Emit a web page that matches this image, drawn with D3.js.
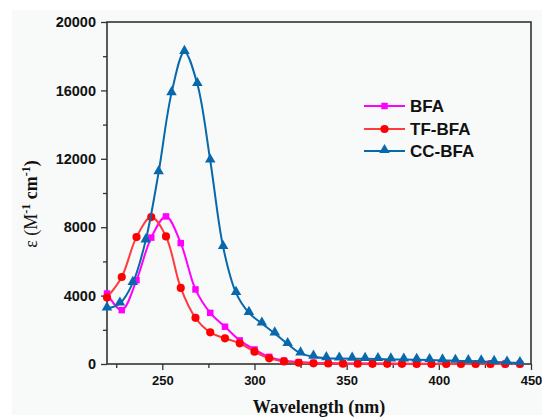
<!DOCTYPE html>
<html>
<head>
<meta charset="utf-8">
<script src="https://cdn.jsdelivr.net/npm/d3@7/dist/d3.min.js"></script>
<style>
  html, body { margin: 0; padding: 0; background: #ffffff; }
  svg { display: block; }
</style>
</head>
<body>
<svg id="chart" width="542" height="419"></svg>
<script>
// ---- data ----
const wavelengthsA = [220,228,236,244,252,260,268,276,284,292,300,308,316,324,332,340,348,356,364,372,380,388,396,404,412,420,428,436,444];
const bfaValues    = [4120,3150,4900,7390,8630,7070,4360,2990,2180,1380,850,420,200,110,70,50,40,30,30,20,20,20,10,10,10,10,0,0,0];
const tfbfaValues  = [3890,5090,7420,8590,7460,4450,2700,1850,1500,1210,720,330,150,75,40,30,20,20,10,10,10,0,0,0,0,0,0,0,0];
const wavelengthsB = [220,227,234,241,248,255,262,269,276,283,290,297,304,311,318,325,332,339,346,353,360,367,374,381,388,395,402,409,416,423,430,437,444];
const ccbfaValues  = [3250,3540,4740,7230,11210,15840,18250,16370,11900,6840,4160,2990,2370,1790,1170,620,430,340,320,310,300,290,270,260,250,230,210,190,170,150,120,90,60];
const seriesNames  = ["BFA","TF-BFA","CC-BFA"];
const xTicks = [250,300,350,400,450];
const yTicks = [0,4000,8000,12000,16000,20000];

const series = [
  {name: seriesNames[0], x: wavelengthsA, y: bfaValues,   color: "#ff00ff", line: "#ff00ff", shape: "square"},
  {name: seriesNames[1], x: wavelengthsA, y: tfbfaValues, color: "#ff0000", line: "#ff3b3b", shape: "circle"},
  {name: seriesNames[2], x: wavelengthsB, y: ccbfaValues, color: "#0868ac", line: "#0868ac", shape: "triangle"}
];

const svg = d3.select("#chart");
const W = 542, H = 419;
const m = {left: 107, right: 531, top: 22, bottom: 364};

// background panel
svg.append("rect").attr("x", 12).attr("y", 10).attr("width", W - 12).attr("height", 405).attr("fill", "#f8f9f9");

const x = d3.scaleLinear().domain([220, 450]).range([m.left, m.right]);
const y = d3.scaleLinear().domain([0, 20000]).range([m.bottom, m.top]);

const axisColor = "#333";

// minor ticks
const xMinor = d3.range(225, 450, 50);
const yMinor = d3.range(2000, 20000, 4000);

const xAxis = svg.append("g").attr("transform", `translate(0,${m.bottom})`)
  .call(d3.axisBottom(x).tickValues(xTicks).tickSize(6).tickPadding(6).tickFormat(d3.format("d")));
svg.append("g").attr("transform", `translate(0,${m.bottom})`)
  .call(d3.axisBottom(x).tickValues(xMinor).tickSize(4).tickFormat(""))
  .call(g => g.select(".domain").remove());
const yAxis = svg.append("g").attr("transform", `translate(${m.left},0)`)
  .call(d3.axisLeft(y).tickValues(yTicks).tickSize(6).tickPadding(5).tickFormat(d3.format("d")));
svg.append("g").attr("transform", `translate(${m.left},0)`)
  .call(d3.axisLeft(y).tickValues(yMinor).tickSize(4).tickFormat(""))
  .call(g => g.select(".domain").remove());

svg.selectAll(".tick line").attr("stroke", axisColor).attr("stroke-width", 1.3);
svg.selectAll(".domain").attr("stroke", "none");
xAxis.selectAll("text").attr("font-family", "Liberation Sans, Arial, sans-serif").attr("font-weight", "bold").attr("font-size", 13).attr("fill", "#111");
yAxis.selectAll("text").attr("font-family", "Liberation Sans, Arial, sans-serif").attr("font-weight", "bold").attr("font-size", 14.5).attr("fill", "#111");

// frame
svg.append("rect").attr("x", m.left).attr("y", m.top).attr("width", m.right - m.left).attr("height", m.bottom - m.top)
  .attr("fill", "none").attr("stroke", axisColor).attr("stroke-width", 1.6);

// lines
const plot = svg.append("g");
function markerPath(shape) {
  if (shape === "square") return d3.symbol().type(d3.symbolSquare).size(42)();
  if (shape === "circle") return d3.symbol().type(d3.symbolCircle).size(52)();
  return d3.symbol().type(d3.symbolTriangle).size(48)();
}
series.forEach(s => {
  const pts = s.x.map((xv, i) => [xv, s.y[i]]);
  const line = d3.line().x(d => x(d[0])).y(d => y(d[1])).curve(d3.curveCatmullRom.alpha(0.5));
  plot.append("path").datum(pts).attr("d", line).attr("fill", "none")
    .attr("stroke", s.line).attr("stroke-width", 2);
  plot.selectAll(null).data(pts).enter().append("path")
    .attr("d", markerPath(s.shape))
    .attr("transform", d => `translate(${x(d[0])},${y(d[1]) + (s.shape === "triangle" ? -1 : 0)})`)
    .attr("fill", s.color);
});

// legend
const leg = svg.append("g");
const legY = [106, 129, 151];
series.forEach((s, i) => {
  leg.append("line").attr("x1", 364).attr("x2", 405).attr("y1", legY[i]).attr("y2", legY[i])
    .attr("stroke", s.line).attr("stroke-width", 2.2);
  leg.append("path").attr("d", markerPath(s.shape))
    .attr("transform", `translate(384.5,${legY[i] + (s.shape === "triangle" ? -1 : 0)})`).attr("fill", s.color);
  leg.append("text").attr("x", 410).attr("y", legY[i] + 6).text(s.name)
    .attr("font-family", "Liberation Sans, Arial, sans-serif").attr("font-weight", "bold").attr("font-size", 17).attr("fill", "#111");
});

// axis titles
svg.append("text").attr("x", (m.left + m.right) / 2).attr("y", 413).attr("text-anchor", "middle")
  .attr("font-family", "Liberation Serif, Times New Roman, serif").attr("font-weight", "bold").attr("font-size", 18)
  .attr("fill", "#111").text("Wavelength (nm)");

const yt = svg.append("text").attr("transform", "translate(37,204) rotate(-90)").attr("text-anchor", "middle")
  .attr("font-family", "Liberation Serif, Times New Roman, serif").attr("font-weight", "bold").attr("font-size", 18).attr("fill", "#111");
yt.append("tspan").attr("font-weight", "normal").text("ε (M");
yt.append("tspan").attr("dy", -7).attr("font-size", 12).text("-1");
yt.append("tspan").attr("dy", 7).text(" cm");
yt.append("tspan").attr("dy", -7).attr("font-size", 12).text("-1");
yt.append("tspan").attr("dy", 7).text(")");
</script>
</body>
</html>
